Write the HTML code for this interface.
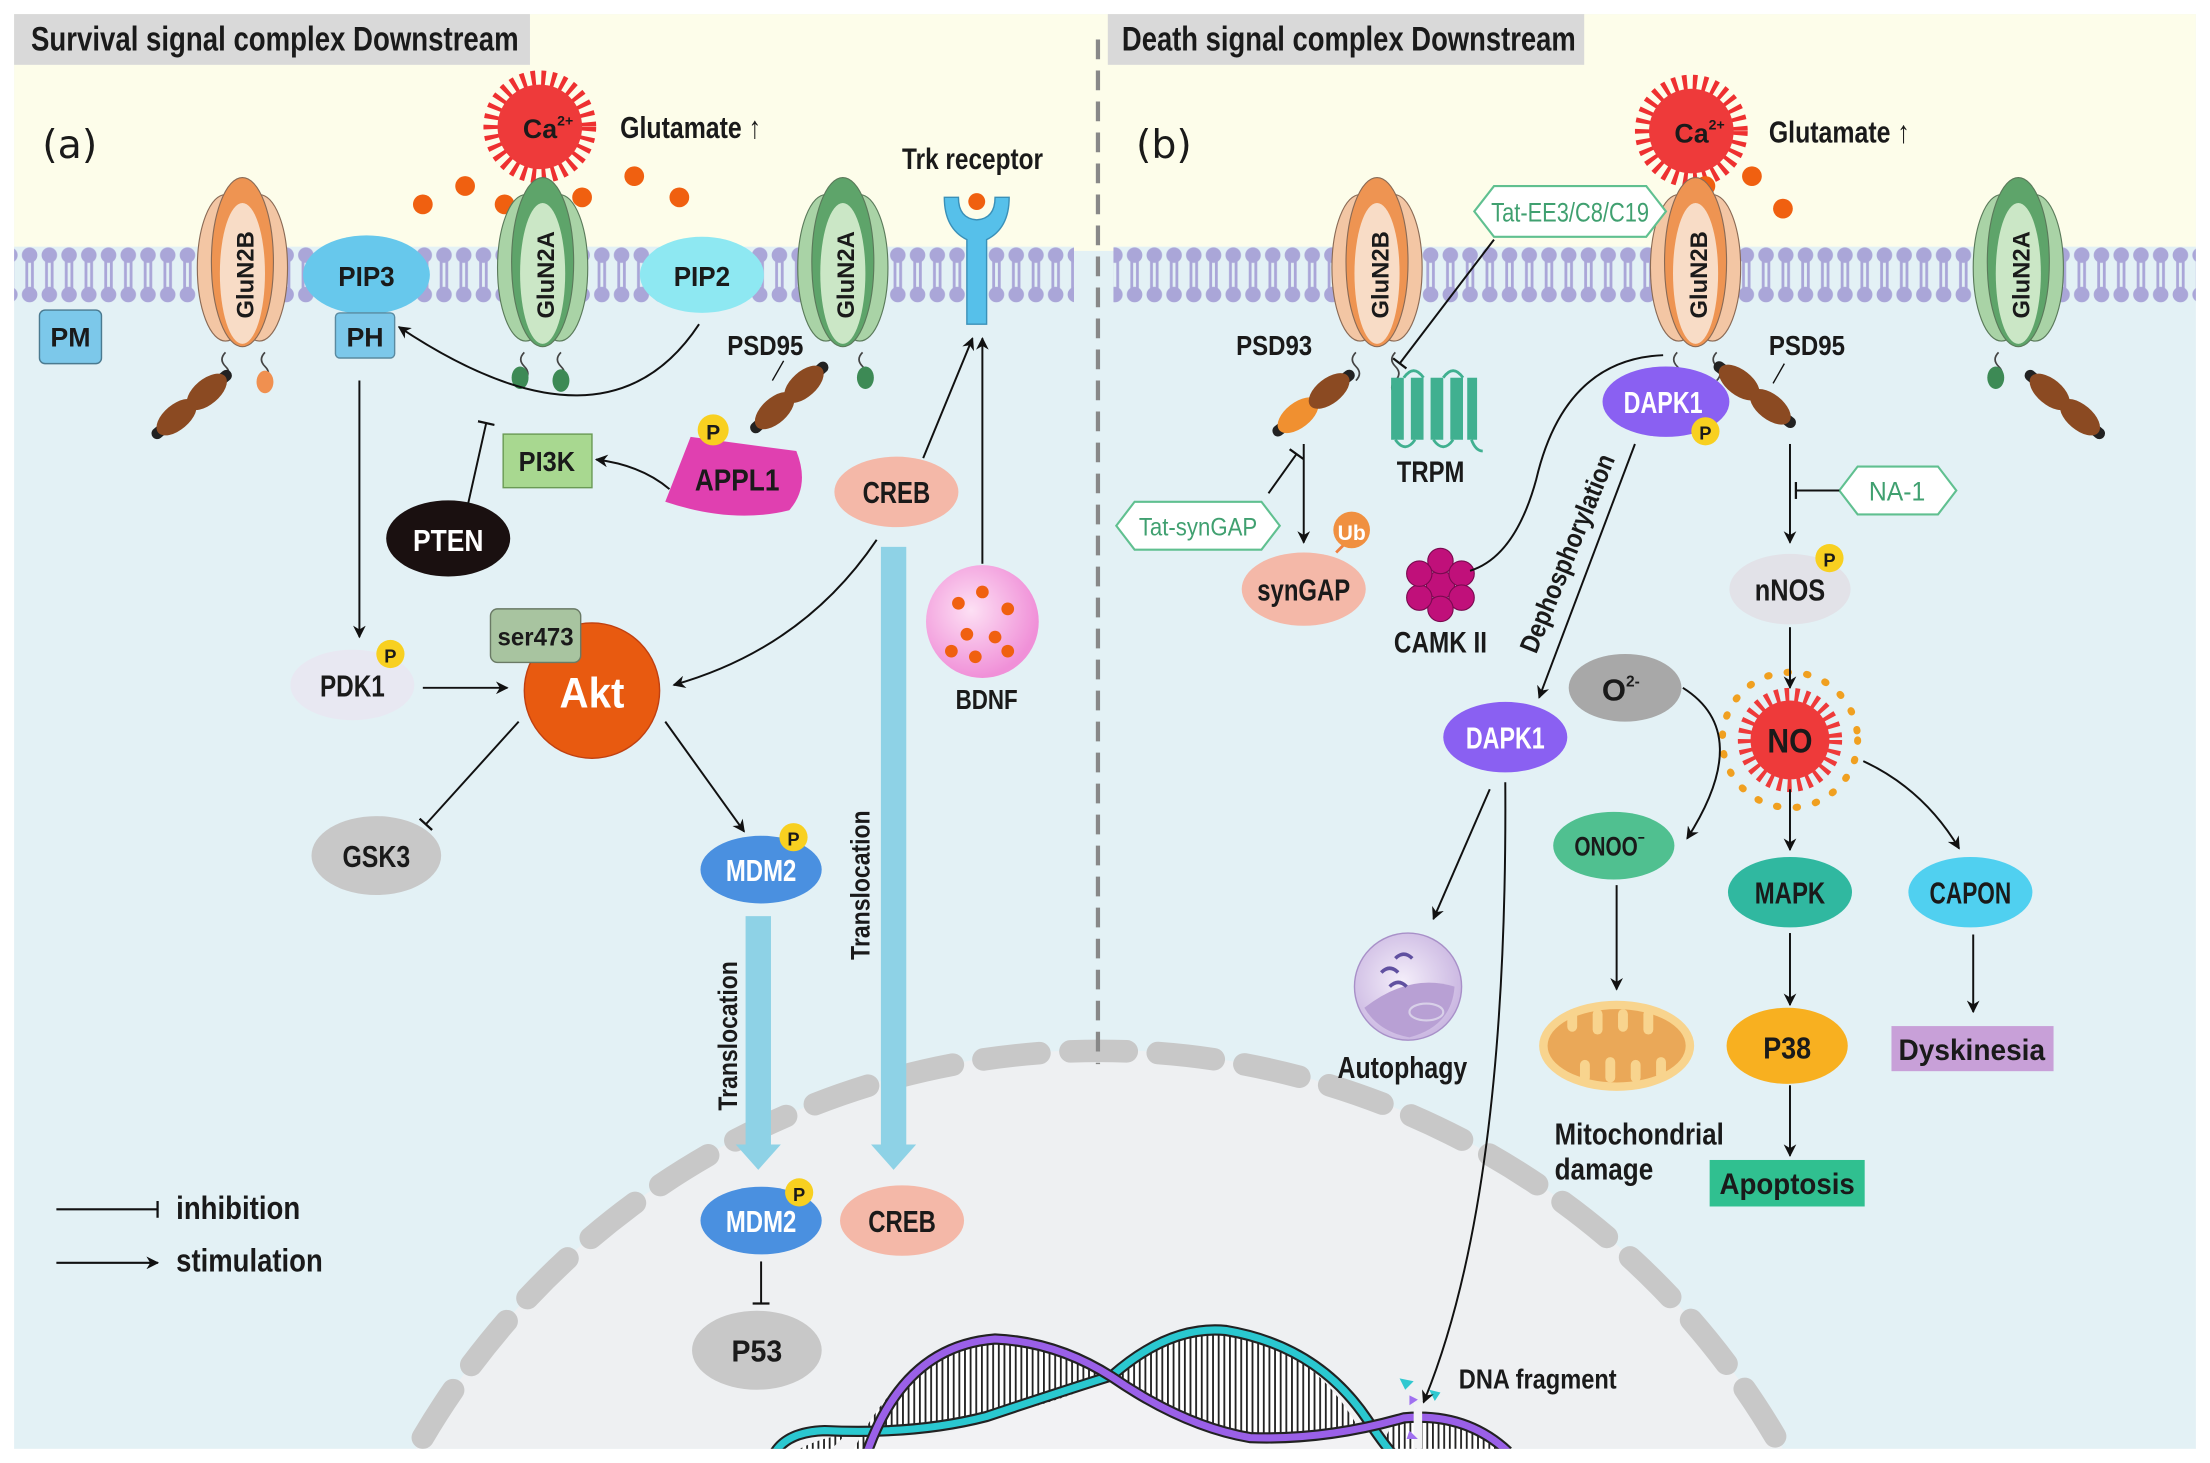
<!DOCTYPE html>
<html><head><meta charset="utf-8"><style>
html,body{margin:0;padding:0;background:#fff;width:2210px;height:1463px;overflow:hidden}
svg{display:block}
text{font-family:"Liberation Sans Narrow","Liberation Sans",sans-serif;font-weight:bold;fill:#1a1a1a}
</style></head><body>
<svg width="2210" height="1463" viewBox="0 0 1568 1038" xmlns="http://www.w3.org/2000/svg">
<defs>
<pattern id="mem" x="0" y="175" width="14" height="40" patternUnits="userSpaceOnUse">
<rect width="14" height="40" fill="#e3f1f5"/>
<line x1="5" y1="8" x2="5" y2="32" stroke="#aaa6d8" stroke-width="2"/>
<line x1="9" y1="8" x2="9" y2="32" stroke="#aaa6d8" stroke-width="2"/>
<circle cx="7" cy="6" r="5.5" fill="#aaa6d8"/>
<circle cx="7" cy="34" r="5.5" fill="#aaa6d8"/>
</pattern>
<pattern id="stripe" x="0" y="0" width="4" height="10" patternUnits="userSpaceOnUse">
<rect width="4" height="10" fill="#fff"/><rect width="1.3" height="10" fill="#222"/>
</pattern>
<marker id="ar" viewBox="0 0 10 10" refX="9" refY="5" markerWidth="9" markerHeight="9" orient="auto-start-reverse" markerUnits="userSpaceOnUse"><path d="M0,0 L10,5 L0,10 L3,5 Z" fill="#111"/></marker>
<marker id="tb" viewBox="0 0 4 12" refX="2" refY="6" markerWidth="4" markerHeight="12" orient="auto" markerUnits="userSpaceOnUse"><rect x="1" y="0" width="1.6" height="12" fill="#111"/></marker>
<radialGradient id="bd" cx="0.4" cy="0.4" r="0.6"><stop offset="0" stop-color="#fde0f4"/><stop offset="1" stop-color="#f090d8"/></radialGradient>
<radialGradient id="au" cx="0.45" cy="0.45" r="0.6"><stop offset="0" stop-color="#f4eefa"/><stop offset="1" stop-color="#c8b4e0"/></radialGradient>
<g id="n2b">
<ellipse cx="-12" cy="0" rx="20" ry="52" fill="#f3c6a4" stroke="#8a6a55" stroke-width="0.8"/>
<ellipse cx="12" cy="0" rx="20" ry="52" fill="#f3c6a4" stroke="#8a6a55" stroke-width="0.8"/>
<ellipse cx="0" cy="-4" rx="22" ry="60" fill="#ee9452" stroke="#8a6a55" stroke-width="0.8"/>
<ellipse cx="0" cy="4" rx="16" ry="50" fill="#f8dcc6"/>
</g>
<g id="n2a">
<ellipse cx="-12" cy="0" rx="20" ry="52" fill="#a9d3a6" stroke="#5a7a5a" stroke-width="0.8"/>
<ellipse cx="12" cy="0" rx="20" ry="52" fill="#a9d3a6" stroke="#5a7a5a" stroke-width="0.8"/>
<ellipse cx="0" cy="-4" rx="22" ry="60" fill="#5ea46a" stroke="#5a7a5a" stroke-width="0.8"/>
<ellipse cx="0" cy="4" rx="16" ry="50" fill="#cbe7c6"/>
</g>
<g id="rod">
<line x1="-32" y1="0" x2="32" y2="0" stroke="#222" stroke-width="8" stroke-linecap="round"/>
<ellipse cx="-14" cy="0" rx="17" ry="9" fill="#8b4a22"/>
<ellipse cx="14" cy="0" rx="17" ry="9" fill="#8b4a22"/>
</g>
<clipPath id="frame"><rect x="10" y="10" width="1548" height="1018"/></clipPath>
</defs>

<rect x="10" y="10" width="1548" height="1018" fill="#e3f1f5"/>
<rect x="10" y="10" width="1548" height="168" fill="#fdfdea"/>
<path d="M295,1028 A557,557 0 0,1 1265,1028 Z" fill="#eef0f2"/>
<path d="M300,1020 A557,557 0 0,1 1260,1020" fill="none" stroke="#c8c8c8" stroke-width="16" stroke-dasharray="40 22" stroke-linecap="round"/>
<rect x="10" y="175" width="752" height="40" fill="url(#mem)"/>
<rect x="790" y="175" width="768" height="40" fill="url(#mem)"/>
<line x1="779" y1="28" x2="779" y2="755" stroke="#888" stroke-width="3" stroke-dasharray="14 8"/>

<rect x="10" y="10" width="366" height="36" fill="#d9d9d9"/>
<text x="22" y="36" font-size="24" textLength="346" lengthAdjust="spacingAndGlyphs">Survival signal complex Downstream</text>
<rect x="786" y="10" width="338" height="36" fill="#d9d9d9"/>
<text x="796" y="36" font-size="24" textLength="322" lengthAdjust="spacingAndGlyphs">Death signal complex Downstream</text>
<text x="30" y="112" font-size="28" style="font-weight:normal;font-family:'DejaVu Sans',sans-serif">(a)</text>
<text x="806" y="112" font-size="28" style="font-weight:normal;font-family:'DejaVu Sans',sans-serif">(b)</text>

<circle cx="383" cy="90" r="34" fill="none" stroke="#ee3030" stroke-width="12" stroke-dasharray="3 4"/>
<circle cx="383" cy="90" r="30" fill="#ee3a3a"/>
<text x="371" y="98" font-size="19">Ca<tspan font-size="10" dy="-9">2+</tspan></text>
<text x="440" y="98" font-size="22" textLength="100" lengthAdjust="spacingAndGlyphs">Glutamate ↑</text>
<g fill="#f06010"><circle cx="300" cy="145" r="7"/><circle cx="330" cy="132" r="7"/><circle cx="358" cy="145" r="7"/><circle cx="413" cy="140" r="7"/><circle cx="450" cy="125" r="7"/><circle cx="482" cy="140" r="7"/></g>
<circle cx="1200" cy="93" r="34" fill="none" stroke="#ee3030" stroke-width="12" stroke-dasharray="3 4"/>
<circle cx="1200" cy="93" r="30" fill="#ee3a3a"/>
<text x="1188" y="101" font-size="19">Ca<tspan font-size="10" dy="-9">2+</tspan></text>
<text x="1255" y="101" font-size="22" textLength="100" lengthAdjust="spacingAndGlyphs">Glutamate ↑</text>
<g fill="#f06010"><circle cx="1210" cy="132" r="7"/><circle cx="1243" cy="125" r="7"/><circle cx="1265" cy="148" r="7"/></g>

<g stroke="#444" stroke-width="1.2" fill="none">
<path d="M160,250 q-5,5 0,10 q5,5 0,10"/><path d="M188,250 q-5,5 0,10 q5,5 0,10"/>
<path d="M372,250 q-5,5 0,10 q5,5 0,10"/><path d="M398,250 q-5,5 0,10 q5,5 0,10"/>
<path d="M612,250 q-5,5 0,10 q5,5 0,10"/>
</g>
<ellipse cx="188" cy="271" rx="6" ry="8" fill="#f09050"/>
<ellipse cx="369" cy="268" rx="6" ry="8" fill="#3d8a55"/><ellipse cx="398" cy="270" rx="6" ry="8" fill="#3d8a55"/>
<ellipse cx="614" cy="268" rx="6" ry="8" fill="#3d8a55"/>
<use href="#n2b" x="172" y="190"/>
<use href="#n2a" x="385" y="190"/>
<use href="#n2a" x="598" y="190"/>
<text transform="translate(180,195) rotate(-90)" text-anchor="middle" font-size="17" textLength="62" lengthAdjust="spacingAndGlyphs">GluN2B</text>
<text transform="translate(393,195) rotate(-90)" text-anchor="middle" font-size="17" textLength="62" lengthAdjust="spacingAndGlyphs">GluN2A</text>
<text transform="translate(606,195) rotate(-90)" text-anchor="middle" font-size="17" textLength="62" lengthAdjust="spacingAndGlyphs">GluN2A</text>
<use href="#rod" transform="translate(136,287) rotate(-40)"/>
<use href="#rod" transform="translate(560,282) rotate(-42)"/>
<text x="516" y="252" font-size="20" textLength="54" lengthAdjust="spacingAndGlyphs">PSD95</text>

<ellipse cx="260" cy="195" rx="45" ry="28" fill="#67c8ec"/>
<text x="260" y="203" text-anchor="middle" font-size="20" textLength="40" lengthAdjust="spacingAndGlyphs">PIP3</text>
<rect x="238" y="222" width="42" height="32" rx="3" fill="#7cc8ea" stroke="#5a8aa0"/>
<text x="259" y="246" text-anchor="middle" font-size="19">PH</text>
<ellipse cx="498" cy="195" rx="44" ry="27" fill="#8ee8f2"/>
<text x="498" y="203" text-anchor="middle" font-size="20" textLength="40" lengthAdjust="spacingAndGlyphs">PIP2</text>
<rect x="28" y="220" width="44" height="38" rx="4" fill="#7cc8ea" stroke="#4a7a90"/>
<text x="50" y="246" text-anchor="middle" font-size="19">PM</text>

<path d="M670,140 q0,22 16,30 l0,60 l14,0 l0,-60 q16,-8 16,-30 l-10,0 q0,15 -13,16 q-13,-1 -13,-16 z" fill="#56c0ea" stroke="#3a90b8"/>
<circle cx="693" cy="143" r="6" fill="#f06010"/>
<text x="690" y="120" text-anchor="middle" font-size="21" textLength="100" lengthAdjust="spacingAndGlyphs">Trk receptor</text>

<rect x="357" y="308" width="63" height="38" fill="#a8d890" stroke="#6a9a55"/>
<text x="388" y="334" text-anchor="middle" font-size="20" textLength="40" lengthAdjust="spacingAndGlyphs">PI3K</text>
<path d="M490,310 L565,320 Q575,345 560,362 Q520,372 472,356 Z" fill="#e040b0"/>
<text x="523" y="348" text-anchor="middle" font-size="22" textLength="60" lengthAdjust="spacingAndGlyphs">APPL1</text>
<circle cx="506" cy="305" r="11" fill="#f8d020"/><text x="506" y="312" text-anchor="middle" font-size="15">P</text>
<ellipse cx="318" cy="382" rx="44" ry="27" fill="#1a1010"/>
<text x="318" y="391" text-anchor="middle" font-size="22" textLength="50" lengthAdjust="spacingAndGlyphs" style="fill:#fff">PTEN</text>
<ellipse cx="636" cy="349" rx="44" ry="25" fill="#f4b8a8"/>
<text x="636" y="357" text-anchor="middle" font-size="22" textLength="48" lengthAdjust="spacingAndGlyphs">CREB</text>

<circle cx="420" cy="490" r="48" fill="#e85a10" stroke="#c04010"/>
<text x="420" y="502" text-anchor="middle" font-size="30" textLength="46" lengthAdjust="spacingAndGlyphs" style="fill:#fff">Akt</text>
<rect x="348" y="432" width="64" height="38" rx="5" fill="#a8c4a0" stroke="#6a7a65"/>
<text x="380" y="458" text-anchor="middle" font-size="18" textLength="54" lengthAdjust="spacingAndGlyphs">ser473</text>
<ellipse cx="250" cy="486" rx="44" ry="25" fill="#e8e8f2"/>
<text x="250" y="494" text-anchor="middle" font-size="22" textLength="46" lengthAdjust="spacingAndGlyphs">PDK1</text>
<circle cx="277" cy="464" r="10" fill="#f8d020"/><text x="277" y="470" text-anchor="middle" font-size="13">P</text>
<ellipse cx="267" cy="607" rx="46" ry="28" fill="#c8c8c8"/>
<text x="267" y="615" text-anchor="middle" font-size="22" textLength="48" lengthAdjust="spacingAndGlyphs">GSK3</text>
<ellipse cx="540" cy="617" rx="43" ry="24" fill="#4a90e0"/>
<text x="540" y="625" text-anchor="middle" font-size="22" textLength="50" lengthAdjust="spacingAndGlyphs" style="fill:#fff">MDM2</text>
<circle cx="563" cy="594" r="10" fill="#f8d020"/><text x="563" y="600" text-anchor="middle" font-size="13">P</text>

<circle cx="697" cy="441" r="40" fill="url(#bd)"/>
<g fill="#f06010"><circle cx="680" cy="428" r="4.5"/><circle cx="697" cy="420" r="4.5"/><circle cx="715" cy="432" r="4.5"/><circle cx="686" cy="450" r="4.5"/><circle cx="706" cy="452" r="4.5"/><circle cx="715" cy="462" r="4.5"/><circle cx="692" cy="466" r="4.5"/><circle cx="675" cy="462" r="4.5"/></g>
<text x="700" y="503" text-anchor="middle" font-size="20" textLength="44" lengthAdjust="spacingAndGlyphs">BDNF</text>

<rect x="529" y="650" width="18" height="165" fill="#8ed2e6"/>
<path d="M522,812 L554,812 L538,830 Z" fill="#8ed2e6"/>
<rect x="625" y="388" width="18" height="427" fill="#8ed2e6"/>
<path d="M618,812 L650,812 L634,830 Z" fill="#8ed2e6"/>
<text transform="translate(523,735) rotate(-90)" text-anchor="middle" font-size="19" textLength="106" lengthAdjust="spacingAndGlyphs">Translocation</text>
<text transform="translate(617,628) rotate(-90)" text-anchor="middle" font-size="19" textLength="106" lengthAdjust="spacingAndGlyphs">Translocation</text>

<ellipse cx="540" cy="866" rx="43" ry="24" fill="#4a90e0"/>
<text x="540" y="874" text-anchor="middle" font-size="22" textLength="50" lengthAdjust="spacingAndGlyphs" style="fill:#fff">MDM2</text>
<circle cx="567" cy="846" r="10" fill="#f8d020"/><text x="567" y="852" text-anchor="middle" font-size="13">P</text>
<ellipse cx="640" cy="866" rx="44" ry="25" fill="#f4b8a8"/>
<text x="640" y="874" text-anchor="middle" font-size="22" textLength="48" lengthAdjust="spacingAndGlyphs">CREB</text>
<ellipse cx="537" cy="958" rx="46" ry="28" fill="#c8c8c8"/>
<text x="537" y="966" text-anchor="middle" font-size="22" textLength="36" lengthAdjust="spacingAndGlyphs">P53</text>

<line x1="40" y1="858" x2="112" y2="858" stroke="#111" stroke-width="1.5" marker-end="url(#tb)"/>
<text x="125" y="865" font-size="23" textLength="88" lengthAdjust="spacingAndGlyphs">inhibition</text>
<line x1="40" y1="896" x2="112" y2="896" stroke="#111" stroke-width="1.5" marker-end="url(#ar)"/>
<text x="125" y="902" font-size="23" textLength="104" lengthAdjust="spacingAndGlyphs">stimulation</text>

<g stroke="#111" stroke-width="1.4" fill="none">
<line x1="556" y1="256" x2="548" y2="270" stroke-width="1"/>
<path d="M496,230 Q430,330 283,232" marker-end="url(#ar)"/>
<line x1="332" y1="358" x2="345" y2="300" marker-end="url(#tb)"/>
<path d="M475,347 Q455,330 423,326" marker-end="url(#ar)"/>
<line x1="255" y1="270" x2="255" y2="452" marker-end="url(#ar)"/>
<line x1="300" y1="488" x2="360" y2="488" marker-end="url(#ar)"/>
<line x1="368" y1="512" x2="302" y2="585" marker-end="url(#tb)"/>
<line x1="472" y1="512" x2="528" y2="590" marker-end="url(#ar)"/>
<path d="M622,383 Q570,460 478,486" marker-end="url(#ar)"/>
<line x1="655" y1="325" x2="690" y2="240" marker-end="url(#ar)"/>
<line x1="697" y1="400" x2="697" y2="240" marker-end="url(#ar)"/>
<line x1="540" y1="895" x2="540" y2="925" marker-end="url(#tb)"/>
</g>

<g stroke="#444" stroke-width="1.2" fill="none">
<path d="M962,250 q-5,5 0,10 q5,5 0,10"/><path d="M990,250 q-5,5 0,10 q5,5 0,10 q-5,5 0,10"/>
<path d="M1190,250 q-5,5 0,10 q5,5 0,10"/><path d="M1218,250 q-5,5 0,10 q5,5 0,10"/>
<path d="M1418,250 q-5,5 0,10 q5,5 0,10"/>
</g>
<ellipse cx="1416" cy="268" rx="6" ry="8" fill="#3d8a55"/>
<use href="#n2b" x="977" y="190"/>
<use href="#n2b" x="1203" y="190"/>
<use href="#n2a" x="1432" y="190"/>
<text transform="translate(985,195) rotate(-90)" text-anchor="middle" font-size="17" textLength="62" lengthAdjust="spacingAndGlyphs">GluN2B</text>
<text transform="translate(1211,195) rotate(-90)" text-anchor="middle" font-size="17" textLength="62" lengthAdjust="spacingAndGlyphs">GluN2B</text>
<text transform="translate(1440,195) rotate(-90)" text-anchor="middle" font-size="17" textLength="62" lengthAdjust="spacingAndGlyphs">GluN2A</text>
<g transform="translate(932,286) rotate(-38)">
<line x1="-32" y1="0" x2="32" y2="0" stroke="#222" stroke-width="8" stroke-linecap="round"/>
<ellipse cx="-14" cy="0" rx="17" ry="9" fill="#f09030"/><ellipse cx="14" cy="0" rx="17" ry="9" fill="#8b4a22"/></g>
<use href="#rod" transform="translate(1245,280) rotate(38)"/>
<use href="#rod" transform="translate(1465,287) rotate(40)"/>
<text x="877" y="252" font-size="20" textLength="54" lengthAdjust="spacingAndGlyphs">PSD93</text>
<text x="1255" y="252" font-size="20" textLength="54" lengthAdjust="spacingAndGlyphs">PSD95</text>

<path d="M1060,132 L1168,132 L1182,150 L1168,168 L1060,168 L1046,150 Z" fill="#fff" stroke="#60c090" stroke-width="1.5"/>
<text x="1114" y="157" text-anchor="middle" font-size="19" textLength="112" lengthAdjust="spacingAndGlyphs" style="fill:#40a070;font-weight:normal">Tat-EE3/C8/C19</text>
<path d="M805,356 L895,356 L908,373 L895,390 L805,390 L792,373 Z" fill="#fff" stroke="#60c090" stroke-width="1.5"/>
<text x="850" y="380" text-anchor="middle" font-size="18" textLength="84" lengthAdjust="spacingAndGlyphs" style="fill:#40a070;font-weight:normal">Tat-synGAP</text>
<path d="M1318,331 L1375,331 L1388,348 L1375,365 L1318,365 L1305,348 Z" fill="#fff" stroke="#60c090" stroke-width="1.5"/>
<text x="1346" y="355" text-anchor="middle" font-size="19" textLength="40" lengthAdjust="spacingAndGlyphs" style="fill:#40a070;font-weight:normal">NA-1</text>

<g fill="#40b090"><rect x="987" y="268" width="9" height="44"/><rect x="1001" y="268" width="9" height="44"/><rect x="1015" y="268" width="9" height="44"/><rect x="1029" y="268" width="9" height="44"/><rect x="1041" y="268" width="7" height="44"/></g>
<g stroke="#40b090" stroke-width="2" fill="none"><path d="M996,268 q7,-10 14,0 M1024,268 q7,-10 14,0 M990,312 q7,10 14,0 M1017,312 q7,10 14,0 M1044,312 q3,8 8,8"/></g>
<text x="1015" y="342" text-anchor="middle" font-size="21" textLength="48" lengthAdjust="spacingAndGlyphs">TRPM</text>

<ellipse cx="925" cy="418" rx="44" ry="26" fill="#f4b8a8"/>
<text x="925" y="426" text-anchor="middle" font-size="22" textLength="66" lengthAdjust="spacingAndGlyphs">synGAP</text>
<line x1="948" y1="392" x2="954" y2="386" stroke="#f08040" stroke-width="2"/>
<circle cx="959" cy="376" r="13" fill="#f09040"/><text x="959" y="383" text-anchor="middle" font-size="15" style="fill:#fff">Ub</text>
<g fill="#c0107a" stroke="#7a0a50" stroke-width="0.8">
<circle cx="1022" cy="415" r="10"/><circle cx="1022" cy="398" r="9"/><circle cx="1037" cy="407" r="9"/><circle cx="1037" cy="424" r="9"/><circle cx="1022" cy="432" r="9"/><circle cx="1007" cy="424" r="9"/><circle cx="1007" cy="407" r="9"/></g>
<text x="1022" y="463" text-anchor="middle" font-size="21" textLength="66" lengthAdjust="spacingAndGlyphs">CAMK II</text>

<ellipse cx="1182" cy="285" rx="45" ry="25" fill="#8a60f2"/>
<text x="1180" y="293" text-anchor="middle" font-size="22" textLength="56" lengthAdjust="spacingAndGlyphs" style="fill:#fff">DAPK1</text>
<circle cx="1210" cy="306" r="10" fill="#f8d020"/><text x="1210" y="312" text-anchor="middle" font-size="13">P</text>
<ellipse cx="1068" cy="523" rx="44" ry="25" fill="#8a60f2"/>
<text x="1068" y="531" text-anchor="middle" font-size="22" textLength="56" lengthAdjust="spacingAndGlyphs" style="fill:#fff">DAPK1</text>
<text transform="translate(1118,395) rotate(-68)" text-anchor="middle" font-size="19" textLength="150" lengthAdjust="spacingAndGlyphs">Dephosphorylation</text>

<ellipse cx="1270" cy="418" rx="43" ry="25" fill="#e2e2e8"/>
<text x="1270" y="426" text-anchor="middle" font-size="22" textLength="50" lengthAdjust="spacingAndGlyphs">nNOS</text>
<circle cx="1298" cy="396" r="10" fill="#f8d020"/><text x="1298" y="402" text-anchor="middle" font-size="13">P</text>
<circle cx="1270" cy="525" r="48" fill="none" stroke="#f0a020" stroke-width="5" stroke-dasharray="1 13" stroke-linecap="round"/>
<circle cx="1270" cy="525" r="32" fill="none" stroke="#ee3a3a" stroke-width="10" stroke-dasharray="3 4"/>
<circle cx="1270" cy="525" r="28" fill="#ee3a3a"/>
<text x="1270" y="534" text-anchor="middle" font-size="24" textLength="32" lengthAdjust="spacingAndGlyphs">NO</text>
<ellipse cx="1153" cy="488" rx="40" ry="24" fill="#a8a8a8"/>
<text x="1150" y="497" text-anchor="middle" font-size="22">O<tspan font-size="11" dy="-10">2-</tspan></text>
<ellipse cx="1145" cy="600" rx="43" ry="24" fill="#50c090"/>
<text x="1142" y="607" text-anchor="middle" font-size="19" textLength="50" lengthAdjust="spacingAndGlyphs">ONOO<tspan font-size="11" dy="-9">−</tspan></text>
<ellipse cx="1270" cy="633" rx="44" ry="25" fill="#30b8a0"/>
<text x="1270" y="641" text-anchor="middle" font-size="22" textLength="50" lengthAdjust="spacingAndGlyphs">MAPK</text>
<ellipse cx="1398" cy="633" rx="44" ry="25" fill="#50d0f0"/>
<text x="1398" y="641" text-anchor="middle" font-size="22" textLength="58" lengthAdjust="spacingAndGlyphs">CAPON</text>
<ellipse cx="1147" cy="742" rx="55" ry="32" fill="#f8d48e"/>
<ellipse cx="1147" cy="742" rx="49" ry="26" fill="#eaa858"/>
<g fill="#f8d48e"><rect x="1112" y="716" width="7" height="16" rx="3.5"/><rect x="1130" y="716" width="7" height="18" rx="3.5"/><rect x="1148" y="716" width="7" height="16" rx="3.5"/><rect x="1166" y="716" width="7" height="18" rx="3.5"/><rect x="1121" y="752" width="7" height="16" rx="3.5"/><rect x="1139" y="750" width="7" height="18" rx="3.5"/><rect x="1157" y="752" width="7" height="16" rx="3.5"/><rect x="1175" y="750" width="7" height="16" rx="3.5"/></g>
<text x="1103" y="812" font-size="22" textLength="120" lengthAdjust="spacingAndGlyphs">Mitochondrial</text>
<text x="1103" y="837" font-size="22" textLength="70" lengthAdjust="spacingAndGlyphs">damage</text>
<ellipse cx="1268" cy="742" rx="43" ry="27" fill="#f8b020"/>
<text x="1268" y="751" text-anchor="middle" font-size="22" textLength="34" lengthAdjust="spacingAndGlyphs">P38</text>
<rect x="1213" y="823" width="110" height="33" fill="#30c090"/>
<text x="1268" y="847" text-anchor="middle" font-size="21" textLength="96" lengthAdjust="spacingAndGlyphs">Apoptosis</text>
<rect x="1342" y="728" width="115" height="32" fill="#c8a0d8"/>
<text x="1399" y="752" text-anchor="middle" font-size="21" textLength="104" lengthAdjust="spacingAndGlyphs">Dyskinesia</text>
<circle cx="999" cy="700" r="38" fill="url(#au)" stroke="#a890c8"/>
<path d="M968,715 Q1000,690 1032,700 Q1030,728 1000,736 Q978,732 968,715 Z" fill="#b8a0d4"/>
<ellipse cx="1012" cy="718" rx="12" ry="6" fill="none" stroke="#d8d0e8" stroke-width="1.5"/>
<path d="M980,690 q6,-6 12,0 M986,700 q6,-6 12,0 M990,680 q6,-6 12,0" stroke="#6050a0" stroke-width="2.5" fill="none"/>
<text x="995" y="765" text-anchor="middle" font-size="22" textLength="92" lengthAdjust="spacingAndGlyphs">Autophagy</text>

<g clip-path="url(#frame)">
<path d="M548,1036 L548,1033 Q555,1018 580,1016 Q620,1016 660,1020 Q730,1000 789,979 Q830,940 870,944 Q940,955 988,1036 Z" fill="#f2f2f4"/>
<path d="M602,1036 Q640,955 706,950 Q750,952 789,977 Q735,1005 626,1018 L602,1036 Z" fill="url(#stripe)"/>
<path d="M789,977 Q830,940 870,944 Q930,955 962,1010 Q920,1020 887,1020 Q840,1005 789,977 Z" fill="url(#stripe)"/>
<path d="M560,1032 Q580,1020 600,1018 L582,1036 L560,1036 Z" fill="url(#stripe)"/>
<path d="M990,1006 Q1040,1005 1071,1033 L1071,1036 L975,1036 Z" fill="url(#stripe)"/>
<path d="M548,1034 Q556,1016 585,1015 Q650,1018 700,1005 Q760,985 789,976 Q830,940 870,944 Q935,955 970,1007 Q982,1025 990,1034" fill="none" stroke="#222" stroke-width="8"/>
<path d="M548,1034 Q556,1016 585,1015 Q650,1018 700,1005 Q760,985 789,976 Q830,940 870,944 Q935,955 970,1007 Q982,1025 990,1034" fill="none" stroke="#2ac8d0" stroke-width="5"/>
<path d="M614,1034 Q640,955 706,950 Q750,952 789,977 Q840,1012 887,1020 Q940,1022 996,1006 Q1040,1002 1070,1030" fill="none" stroke="#222" stroke-width="8"/>
<path d="M614,1034 Q640,955 706,950 Q750,952 789,977 Q840,1012 887,1020 Q940,1022 996,1006 Q1040,1002 1070,1030" fill="none" stroke="#9a60e8" stroke-width="5"/>
<rect x="1003" y="995" width="6" height="33" fill="#f2f2f4"/>
<path d="M993,978 l10,2 -6,6 z M1022,988 l-8,-2 4,8 z" fill="#30c8d0"/>
<path d="M1000,990 l6,3 -6,4 z M1000,1015 l6,6 -8,0 z" fill="#a070f0"/>
</g>
<rect x="10" y="1028" width="1548" height="10" fill="#fff"/>
<text x="1035" y="985" font-size="20" textLength="112" lengthAdjust="spacingAndGlyphs">DNA fragment</text>

<g stroke="#111" stroke-width="1.4" fill="none">
<line x1="1266" y1="258" x2="1258" y2="272" stroke-width="1"/>
<line x1="1060" y1="170" x2="993" y2="258" marker-end="url(#tb)"/>
<line x1="900" y1="350" x2="920" y2="322" marker-end="url(#tb)"/>
<line x1="925" y1="315" x2="925" y2="385" marker-end="url(#ar)"/>
<path d="M1043,405 Q1075,395 1090,340 Q1110,255 1180,252"/>
<line x1="1160" y1="315" x2="1092" y2="495" marker-end="url(#ar)"/>
<line x1="1305" y1="348" x2="1274" y2="348" marker-end="url(#tb)"/>
<line x1="1270" y1="315" x2="1270" y2="385" marker-end="url(#ar)"/>
<line x1="1270" y1="445" x2="1270" y2="488" marker-end="url(#ar)"/>
<path d="M1194,488 Q1245,520 1197,595" marker-end="url(#ar)"/>
<line x1="1270" y1="560" x2="1270" y2="603" marker-end="url(#ar)"/>
<path d="M1322,540 Q1365,560 1390,602" marker-end="url(#ar)"/>
<line x1="1147" y1="628" x2="1147" y2="702" marker-end="url(#ar)"/>
<line x1="1270" y1="662" x2="1270" y2="713" marker-end="url(#ar)"/>
<line x1="1270" y1="770" x2="1270" y2="820" marker-end="url(#ar)"/>
<line x1="1400" y1="663" x2="1400" y2="718" marker-end="url(#ar)"/>
<line x1="1057" y1="560" x2="1017" y2="652" marker-end="url(#ar)"/>
<path d="M1068,555 Q1070,850 1010,995" marker-end="url(#ar)"/>
</g>
</svg>
</body></html>
